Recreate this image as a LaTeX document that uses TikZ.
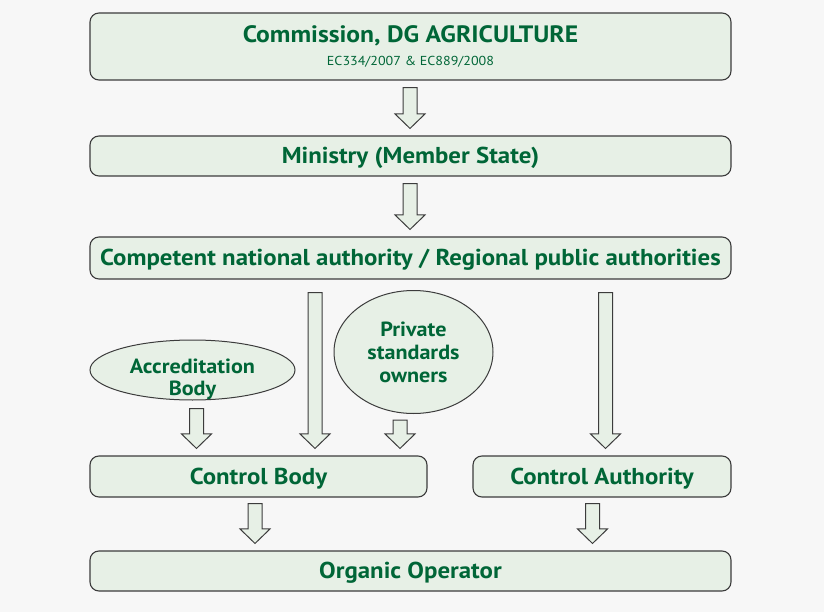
\documentclass[tikz,border=0pt]{standalone}
\usepackage{fontspec}
\setmainfont{PT Sans}[FakeStretch=1.08]
\usepackage{xcolor}
\usepackage{tikz}
\usetikzlibrary{shapes.geometric, calc, positioning}

\definecolor{pagebg}{HTML}{F7F7F7}
\definecolor{boxfill}{HTML}{E7F0E6}
\definecolor{boxline}{HTML}{3C3C3C}
\definecolor{labelgreen}{HTML}{006637}

\newcommand{\fatarrow}[4][7]{%
  \draw[fat] let \p1=(#3.south), \p2=(#4.north) in
    (#2pt-7pt,\y1-#1pt) -- (#2pt-7pt,\y2+21.5pt) -- (#2pt-15pt,\y2+21.5pt) --
    (#2pt,\y2+7pt) -- (#2pt+15pt,\y2+21.5pt) -- (#2pt+7pt,\y2+21.5pt) --
    (#2pt+7pt,\y1-#1pt) -- cycle;
}

\begin{document}
\begin{tikzpicture}[
    x=1pt, y=-1pt,
    box/.style={rectangle, rounded corners=9pt, draw=boxline, line width=1.1pt, fill=boxfill,
      minimum width=641pt, minimum height=41pt, inner sep=0pt, align=center,
      text height=17pt, text depth=1.5pt,
      text=labelgreen, font=\fontsize{23}{24}\selectfont\bfseries},
    blob/.style={ellipse, draw=boxline, line width=1pt, fill=boxfill, inner sep=0pt, align=center,
      text=labelgreen, font=\fontsize{20.5}{23}\selectfont\bfseries},
    blobtext/.style={inner sep=0pt, align=center, text=labelgreen,
      font=\fontsize{20.5}{22.5}\selectfont\bfseries},
    fat/.style={draw=boxline, line width=1pt, fill=boxfill, line join=miter}
]

\fill[pagebg] (0,0) rectangle (824,612);
\useasboundingbox (0,0) rectangle (824,612);

\node[box, minimum height=67pt, text height={}, text depth={}] (comm) at (410.5,46.5)
  {\fontsize{23.7}{22}\selectfont Commission, DG AGRICULTURE\\[-1pt]
   \fontsize{13}{12}\selectfont\mdseries EC334/2007 \& EC889/2008};
\node[box, minimum height=40pt] (ministry) at (410.5,156) {Ministry (Member State)};
\node[box, minimum height=42pt] (authority) at (410.5,258)
  {Competent national authority / Regional public authorities};
\node[blob, minimum width=205pt, minimum height=60pt] (accred) at (192.5,370) {};
\node[blobtext] (accredlabel) at (192.5,379.5) {Accreditation\\Body};
\node[blob, minimum width=159pt, minimum height=123pt] (owners) at (413.5,352)
  {Private\\standards\\owners};
\node[box, minimum width=337pt] (cbody) at (258.5,476.5) {Control Body};
\node[box, minimum width=258pt] (cauth) at (602,476.5) {Control Authority};
\node[box, minimum height=40pt] (operator) at (410.5,571) {Organic Operator};

\fatarrow{410}{comm}{ministry}
\fatarrow{410}{ministry}{authority}
\fatarrow[13]{315}{authority}{cbody}
\fatarrow[13]{605.5}{authority}{cauth}
\fatarrow[8]{196.5}{accred}{cbody}
\fatarrow[6]{400}{owners}{cbody}
\fatarrow[6]{255}{cbody}{operator}
\fatarrow[6]{592.5}{cauth}{operator}

\end{tikzpicture}
\end{document}
